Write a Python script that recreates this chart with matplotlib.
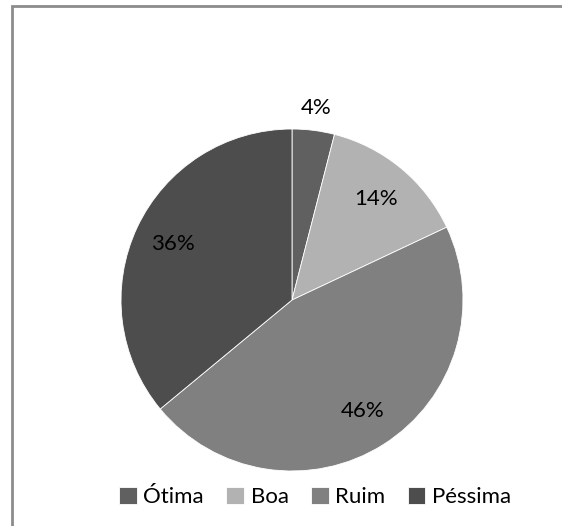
import numpy as np
import matplotlib
matplotlib.use("Agg")
import matplotlib.pyplot as plt

categories = ["Ótima", "Boa", "Ruim", "Péssima"]
values = [4, 14, 46, 36]
colors = ["#606060", "#b2b2b2", "#808080", "#4d4d4d"]

plt.rcParams["font.family"] = ["Lato", "DejaVu Sans"]

W, H = 562, 526
fig = plt.figure(figsize=(W / 100, H / 100), dpi=100)
ax = fig.add_axes([0, 0, 1, 1])

cx, cy, r = 292, H - 300, 171
wedges, texts, autotexts = ax.pie(
    values, colors=colors, startangle=90, counterclock=False,
    center=(cx, cy), radius=r, autopct="%d%%", pctdistance=0.77,
    wedgeprops=dict(edgecolor="white", linewidth=0.6),
    textprops=dict(fontsize=16, color="black"))
ax.set_xlim(0, W)
ax.set_ylim(0, H)
ax.set_aspect("equal")
ax.axis("off")

# moldura cinza: so topo e esquerda aparecem no recorte
ax.plot([12, 12, 700], [-10, H - 6, H - 6], color="#8c8c8c", lw=2,
        solid_joinstyle="miter", clip_on=True)

# rotulo pequeno fica fora da fatia
w = wedges[0]
ang = np.deg2rad((w.theta1 + w.theta2) / 2)
autotexts[0].set_position((cx + 1.13 * r * np.cos(ang), cy + 1.13 * r * np.sin(ang)))

fig.legend(wedges, categories, loc="center", bbox_to_anchor=(315 / W, 1 - 497 / H),
           ncol=4, frameon=False, fontsize=16, handlelength=0.8, handleheight=0.8,
           handletextpad=0.3, columnspacing=1.0)

fig.savefig("out.png", dpi=100)
